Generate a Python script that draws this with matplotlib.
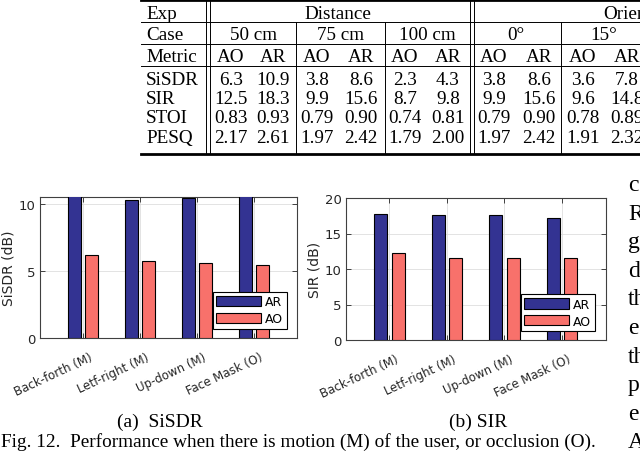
import numpy as np
import matplotlib
matplotlib.use('Agg')
import matplotlib.pyplot as plt
import matplotlib.transforms as mtransforms

# ---- table data (top of the page) ----
row_names = ['SiSDR', 'SIR', 'STOI', 'PESQ']
case_names = ['50 cm', '75 cm', '100 cm', '0°', '15°']
sub_cols = ['AO', 'AR'] * 5
tab_sisdr = ['6.3', '10.9', '3.8', '8.6', '2.3', '4.3', '3.8', '8.6', '3.6', '7.8']
tab_sir = ['12.5', '18.3', '9.9', '15.6', '8.7', '9.8', '9.9', '15.6', '9.6', '14.8']
tab_stoi = ['0.83', '0.93', '0.79', '0.90', '0.74', '0.81', '0.79', '0.90', '0.78', '0.89']
tab_pesq = ['2.17', '2.61', '1.97', '2.42', '1.79', '2.00', '1.97', '2.42', '1.91', '2.32']

# ---- bar chart data ----
motion_cases = ['Back-forth (M)', 'Letf-right (M)', 'Up-down (M)', 'Face Mask (O)']
sisdr_ar = [10.8, 10.3, 10.4, 10.9]
sisdr_ao = [6.2, 5.7, 5.6, 5.4]
sir_ar = [17.8, 17.6, 17.6, 17.2]
sir_ao = [12.3, 11.6, 11.6, 11.6]

AR_COLOR = '#333392'
AO_COLOR = '#f8716b'
SERIF = ['Liberation Serif', 'DejaVu Serif']
SANS = ['DejaVu Sans']

fig = plt.figure(figsize=(6.4, 4.56), dpi=100)

# page layer in pixel coordinates
bg = fig.add_axes([0, 0, 1, 1])
bg.set_xlim(0, 640)
bg.set_ylim(456, 0)
bg.axis('off')

fs_tab = 13.8
tx0, tx1 = 141, 660
# rules
bg.plot([tx0, tx1], [1, 1], color='k', lw=2.0)
bg.plot([tx0, tx1], [155, 155], color='k', lw=2.0)
for yy in [23, 45, 67]:
    bg.plot([tx0, tx1], [yy, yy], color='k', lw=0.7)
for xx in [205.5, 209.5, 469.5, 473.5]:
    bg.plot([xx, xx], [1, 155], color='k', lw=0.7)
for xx in [296, 385, 561]:
    bg.plot([xx, xx], [23, 155], color='k', lw=0.7)

# header rows
base = [19, 40.5, 62.5, 85, 104.5, 123.5, 143]
for lab, yb in zip(['Exp', 'Case', 'Metric'] + row_names, base):
    bg.text(146, yb, lab, fontsize=fs_tab, family=SERIF, va='baseline', ha='left')
bg.text(338, base[0], 'Distance', fontsize=fs_tab, family=SERIF, va='baseline', ha='center')
bg.text(647, base[0], 'Orientation', fontsize=fs_tab, family=SERIF, va='baseline', ha='center')
case_x = [253, 340.5, 427, 516, 604]
for lab, xx in zip(case_names, case_x):
    bg.text(xx, base[1], lab, fontsize=fs_tab, family=SERIF, va='baseline', ha='center')
col_x = [231, 273, 317, 361, 405, 448, 494, 539, 583, 627]
for lab, xx in zip(sub_cols, col_x):
    bg.text(xx, base[2], lab, fontsize=fs_tab, family=SERIF, va='baseline', ha='center')
for vals, yb in zip([tab_sisdr, tab_sir, tab_stoi, tab_pesq], base[3:]):
    for v, xx in zip(vals, col_x):
        bg.text(xx, yb, v, fontsize=fs_tab, family=SERIF, va='baseline', ha='center')

# captions
bg.text(160, 427, '(a)  SiSDR', fontsize=14, family=SERIF, va='baseline', ha='center')
bg.text(478, 427, '(b) SIR', fontsize=14, family=SERIF, va='baseline', ha='center')
bg.text(1, 447, 'Fig. 12.  Performance when there is motion (M) of the user, or occlusion (O).',
        fontsize=13.9, family=SERIF, va='baseline', ha='left')

# clipped body text of the right column
body = ['c', 'R', 'g', 'd', 'th', 'e', 'th', 'p', 'e', 'A']
for i, s in enumerate(body):
    bg.text(628, 191 + 28.6 * i, s, fontsize=17, family=SERIF, va='baseline', ha='left')


def bar_panel(rect, ar, ao, ymax, yticks, ylabel):
    ax = fig.add_axes(rect)
    x = np.arange(1, len(motion_cases) + 1)
    ax.bar(x - 0.15, ar, 0.225, color=AR_COLOR, edgecolor='k', linewidth=0.8, label='AR', zorder=3)
    ax.bar(x + 0.15, ao, 0.225, color=AO_COLOR, edgecolor='k', linewidth=0.8, label='AO', zorder=3)
    ax.set_xlim(0.24, 4.76)
    ax.set_ylim(0, ymax)
    ax.set_yticks(yticks)
    ax.set_xticks(x)
    ax.set_xticklabels(motion_cases, rotation=25, ha='right', va='top',
                       rotation_mode='anchor', fontsize=8.5, family=SANS)
    for t in ax.get_yticklabels():
        t.set_family(SANS)
    ax.tick_params(direction='in', top=True, right=True, length=3.5, width=0.6,
                   color='#262626', labelcolor='#262626')
    ax.tick_params(axis='x', pad=9)
    ax.tick_params(axis='y', pad=3, labelsize=9.5)
    off = mtransforms.ScaledTranslation(5.5 / 100, 0, fig.dpi_scale_trans)
    for t in ax.get_xticklabels():
        t.set_transform(t.get_transform() + off)
    ax.grid(True, color='#dedede', lw=0.6)
    ax.set_axisbelow(True)
    for sp in ax.spines.values():
        sp.set_color('#404040')
        sp.set_linewidth(0.8)
    ax.set_ylabel(ylabel, fontsize=10, family=SANS, color='#262626', va='center')
    w_px = rect[2] * 640
    ax.yaxis.set_label_coords(-31 / w_px, 0.5)
    return ax


def add_legend(ax, anchor):
    leg = ax.legend(loc='lower right', bbox_to_anchor=anchor, borderaxespad=0,
                    prop={'family': SANS, 'size': 9}, handlelength=3.6, handleheight=0.9,
                    handletextpad=0.3, labelspacing=0.3, borderpad=0.3, fancybox=False,
                    edgecolor='k', framealpha=1)
    leg.get_frame().set_linewidth(0.8)


ax1 = bar_panel([40 / 640, 1 - 339 / 456, 257 / 640, 141 / 456],
                sisdr_ar, sisdr_ao, 10.5, [0, 5, 10], 'SiSDR (dB)')
add_legend(ax1, (0.961, 0.064))

ax2 = bar_panel([345.7 / 640, 1 - 341 / 456, 260 / 640, 142 / 456],
                sir_ar, sir_ao, 20, [0, 5, 10, 15, 20], 'SIR (dB)')
add_legend(ax2, (0.959, 0.061))

fig.savefig('out.png', dpi=100)
